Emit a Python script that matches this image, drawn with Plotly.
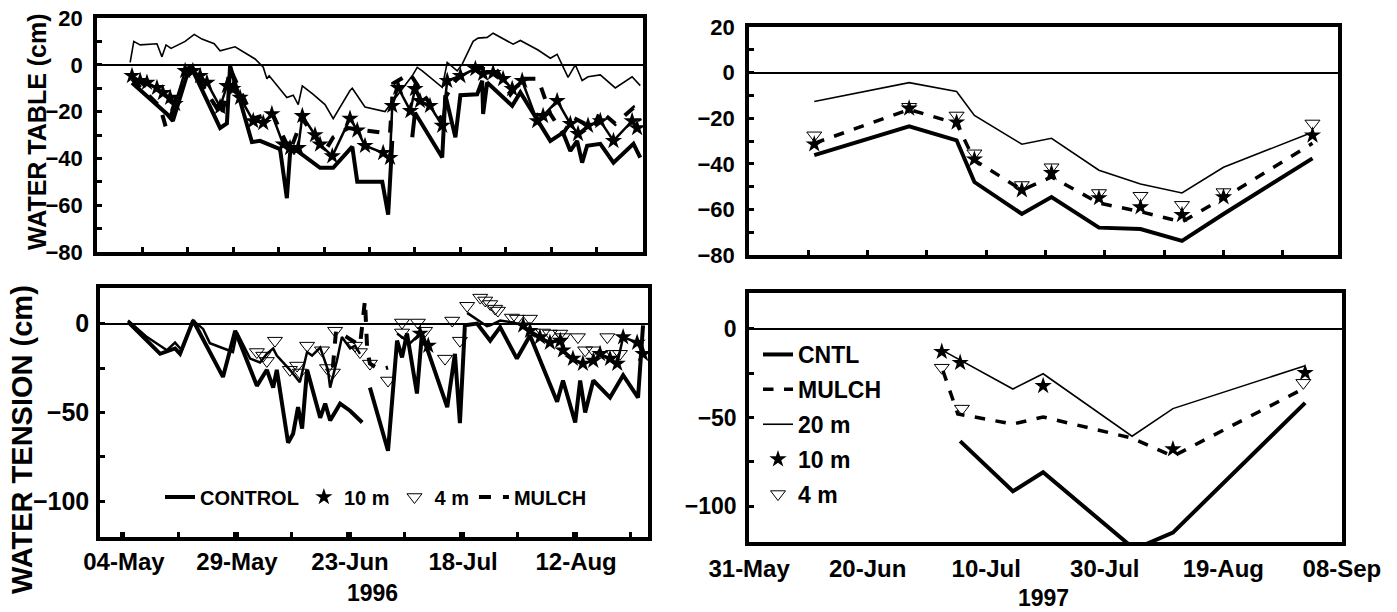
import pandas as pd
import plotly.graph_objects as go

# ---------------- DATA (x = day of year, y = cm) ----------------
# 1996, upper-left: water table
TL_20M = [(127.3, 1), (128.1, 10), (129.5, 8.5), (133.2, 9), (134.3, 3.4), (135.2, 8.5), (136.3, 7),
          (139.4, 10), (141.4, 13), (143.1, 11), (145.8, 9), (147.1, 6), (150.4, 7.7), (154.8, 2.5),
          (156.6, -1), (157.4, -6), (157.9, -4.7), (161.8, -14), (163.2, -13), (164.3, -17), (165.2, -9),
          (167.6, -12.6), (170.2, -17), (172, -23), (175.7, -11), (176.2, -10), (179, -18), (183.4, -20),
          (189.4, -4.7), (190.5, -1.1), (191.6, -2.6), (196, -9.6), (197.1, 1), (199.3, -2.6), (200.4, 0.3),
          (202.8, 10), (203.9, 11.4), (205.9, 11.7), (207.2, 13.5), (211.6, 8.8), (213.2, 10.4), (214.7, 8.8),
          (217.1, 6.3), (219.8, 2.8), (221.3, 4.5), (223.7, -5.4), (225.3, 0), (226.8, -6.7), (228.1, -5.1),
          (230.8, -4.3), (234.1, -9.9), (237.8, -5.1), (239.6, -8.9)]
TL_CONTROL = [(127.7, -7.7), (135.4, -21), (136.7, -24), (140.5, 0), (147.1, -27), (148.6, -25), (149.3, -0.4),
              (154.1, -33), (155.9, -32.5), (160.3, -36), (161.8, -57), (162.5, -38), (163.2, -35.5), (169.1, -44),
              (172, -44), (176.2, -35), (177.3, -50), (182.8, -50), (184.1, -64), (185, -32.5), (185.6, None),
              (189.4, -31), (190, -20.5), (196, -39.6), (196.7, -13), (198.9, -31), (200, -13), (203.7, -12.6),
              (204.8, -6.8), (205, -21), (205.9, -7.6), (211.4, -17.5), (213.2, -11.8), (219.8, -32.5),
              (222.6, -29), (224.2, -36.8), (225.7, -32.5), (226.8, -41.8), (227.9, -34.6), (230.8, -33.8),
              (233.7, -41.8), (238.1, -33.8), (239.6, -39.7)]
TL_10M = [(127.7, -4.7), (129.5, -6.8), (131, -7.6), (133.2, -9.8), (134.5, -12), (136.1, -14), (137.2, -16.7),
          (139.4, -2.6), (141.1, -2.6), (142.7, -4.7), (144.2, -7.6), (147.1, -18), (148.6, -9), (149.9, -10.3),
          (151.5, -14), (154.4, -24), (156.6, -24.8), (158.5, -21), (161, -34), (162.5, -35.5), (164.3, -35.5),
          (165.2, -21.8), (168, -30), (169.1, -34), (171.8, -39), (175.7, -23), (177.3, -28), (179, -34.6),
          (183, -37.6), (184.5, -39.7), (185, -17.5), (186.3, -9.8), (189, -19.7), (190, -10.3), (191.1, -15.4),
          (193.3, -17.5), (196, -26), (197.1, -6.8), (200, -4.7), (203.3, -1.7), (205, -3.8), (207.2, -3.4),
          (209.4, -6), (211.4, -10.3), (213.6, -6.8), (216.9, -24), (218.2, -21.8), (221.3, -15.4),
          (224.2, -25.2), (225.9, -29.5), (228.1, -26), (230.8, -24), (233.7, -32.5), (237.8, -24), (238.9, -27)]
TL_MULCH = [(127.7, -6), (133.9, -18), (135.2, -27), (140.5, -0.4), (147.5, -22), (149.3, -1.7), (154.4, -23),
            (158.5, -20.5), (162.5, -36.8), (165.2, -23), (170.2, -36.8), (172, -31), (175.3, -27), (184.5, -29.5),
            (185.2, -8), (188.9, -3.8), (194, -18.8), (196.2, -24), (196.7, -14), (199.3, -5.5), (202.8, -1),
            (208.1, -2.6), (211, -12.6), (213.6, -6), (217.1, -6), (219.8, -21), (222.6, -29.5), (224.8, -22.6),
            (229.3, -27), (230.8, -19.7), (234.1, -25.2), (238.1, -18.4), (239.6, -24)]

# 1996, lower-left: water tension
BL_CONTROL = [(125.9, 1), (133, -17), (136.3, -14), (137.4, -17), (140.3, 1.7), (146.9, -30), (149.6, -4),
              (154.4, -35), (156.6, -26), (158, -36), (158.8, -26), (161.3, -67), (162.4, -62), (163.5, -47),
              (164.4, -59), (165.5, -26), (168.4, -53), (169.5, -45), (170.6, -54.5), (172.8, -45), (175, -49),
              (177.7, -55.6), (178.5, None), (179.4, -36), (183.4, -71.5), (185.4, -9.6), (186.5, -19),
              (187.6, -5.6), (189.8, -39.3), (190.9, -5.6), (196.5, -47), (198.2, -17), (199.3, -56), (200.4, -1),
              (203.1, 0), (206, -9.6), (208.2, -2), (211.9, -19.7), (214.8, -6.7), (220.8, -44), (222.1, -32),
              (224.8, -55.6), (225.9, -32), (227, -50), (228.8, -32), (232.5, -41.6), (235.4, -29),
              (238.7, -41.6), (239.8, -1)]
BL_10M_LINE = [(125.9, 1.7), (130.1, -7.6), (134.5, -15), (136.3, -10.7), (137.8, -15), (140.3, 1.7),
               (142.5, -3), (144, -11), (149.1, -16), (150, -5), (152.9, -19.7), (155.1, -21.9), (156.6, -17),
               (158, -14), (158.8, -18), (161.7, -26), (163.9, -33), (165.5, -16), (166.6, -18), (168.4, -13.5),
               (170.1, -26), (170.6, -36), (172.1, -20.8), (173.2, -7.6), (175, -14), (176.1, -12.4),
               (177.2, -17), (178, None), (185.4, -5.6), (188.3, -11), (190.5, -5.6), (192.3, -12.4), (194, None),
               (200.9, 6), (205.3, -1.5), (206, -1), (208.2, 1.7), (211.1, 0.6), (213.3, -1), (214.8, -4),
               (217, -7.6), (219.2, -10.7), (221.5, -9.6), (222.1, -15), (224.3, -19.7), (226.5, -22.5),
               (228.8, -20.8), (230.3, -17), (232.5, -19.7), (234.1, -22.5), (235.4, -7.6), (238.5, -10.7),
               (239.8, -17)]
BL_10M_STARS = [(190.5, -5.6), (192.3, -12.4), (213.3, -1), (214.8, -4), (217, -7.6), (219.2, -10.7),
                (221.5, -9.6), (222.1, -15), (224.3, -19.7), (226.5, -22.5), (228.8, -20.8), (230.3, -17),
                (232.5, -19.7), (234.1, -22.5), (235.4, -7.6), (238.5, -10.7), (239.8, -17)]
BL_4M = [(154.4, -16), (155.8, -18), (156.6, -21), (158.4, -9.6), (161.7, -26), (163.3, -23.6), (163.9, -27.5),
         (165.5, -12.4), (168.8, -15), (169.9, -25), (171.2, -27.5), (171.7, -4), (176.1, -12.4), (177.2, -16),
         (179.4, -22.5), (183.4, -32), (186.5, 0.6), (186.5, -5), (190, 0.6), (191.6, -4), (196, -19.7),
         (197.6, 1.7), (199.3, -9.6), (200.9, 10), (203.8, 14.6), (204.9, 13), (206, 11), (207.1, 8.4),
         (207.7, 7.3), (210.8, 3.4), (211.9, 2.8), (214.8, 2.8), (217.7, -5), (219.2, -5.6), (221.5, -5.6),
         (222.1, -7.6), (225.4, -7.6), (227, -15), (228.8, -15), (231.9, -7.6), (233.2, -17), (234.7, -17)]
BL_MULCH = [(171.2, -24.7), (171.9, -4), (174.3, -7.6), (177.2, -12.4), (178.3, 13), (178.8, -15),
            (179.4, -22.5), (181.6, -26), (183.4, -24.7)]

# 1997, upper-right: water table
TR_DAYS = [162, 178, 186, 189, 197, 202, 210, 217, 224, 231, 246]
TR_20M = [-12.7, -4.4, -8.3, -18.8, -31.4, -28.8, -42.8, -48.9, -52.8, -41.5, -26.2]
TR_CNTL = [-36.2, -23.6, -29.7, -48, -62, -54.6, -68, -68.6, -73.8, -62, -37.6]
TR_MULCH = [-31, -16.2, -22.3, -38.4, -51.5, -45.8, -57.2, -61, -65.5, -55, -31]
TR_10M = [-31.4, -15.7, -21.8, -38, -51.5, -44, -55, -59, -62.4, -54.6, -27.5]
TR_4M = [-27.5, -15, -18.8, -35.4, -49.3, -41.5, -52.8, -54, -58, -52.4, -22.3]

# 1997, lower-right: water tension
BR_CNTL = [(186.6, -63.3), (195.5, -91.5), (200.6, -80.8), (216, -124), (222.5, -114.7), (244.8, -41.8)]
BR_MULCH = [(183.7, -23.7), (186.2, -48), (195.5, -53.7), (200.6, -49.7), (215.6, -61.6), (222.5, -71.8),
            (244.8, -33.3)]
BR_20M = [(183.7, -12.4), (195.5, -34), (200.6, -25.4), (215.6, -60.5), (222.5, -45), (244.8, -20.9)]
BR_10M = [(183.5, -13), (186.6, -19.2), (200.6, -32.2), (222.5, -67.8), (244.8, -24.9)]
BR_4M = [(183.5, -22), (186.9, -45), (244.5, -30.5)]


# ---------------- helpers ----------------
def to_date(year, d):
    return pd.Timestamp(year=year, month=1, day=1) + pd.Timedelta(days=d - 1)


def split(year, pairs):
    return [to_date(year, p[0]) for p in pairs], [p[1] for p in pairs]


FONT = "Liberation Sans, Arial, Helvetica, sans-serif"
BLACK = "black"
DAY_MS = 86400000

fig = go.Figure()


def add_line(year, pairs, ax, width, dash="solid", name=None, legend=None, mode="lines", marker=None):
    x, y = split(year, pairs)
    fig.add_trace(go.Scatter(
        x=x, y=y, mode=mode, name=name, xaxis=ax[0], yaxis=ax[1],
        line=dict(color=BLACK, width=width, dash=dash),
        marker=marker, showlegend=legend is not None, legend=legend if legend else "legend",
        legendgroup=f"{legend}-{name}", connectgaps=False, cliponaxis=True))


STAR = dict(symbol="star", size=13, color=BLACK, line=dict(width=0))
TRI = dict(symbol="triangle-down-open", size=13, color=BLACK, line=dict(width=1))

# upper-left
A1 = ("x", "y")
add_line(1996, TL_20M, A1, 1.6)
add_line(1996, TL_CONTROL, A1, 4)
add_line(1996, TL_MULCH, A1, 4, dash="dash")
add_line(1996, TL_10M, A1, 2.5, mode="lines+markers", marker=STAR)

# lower-left
A2 = ("x2", "y2")
add_line(1996, BL_CONTROL, A2, 4, name="CONTROL", legend="legend")
add_line(1996, BL_10M_LINE, A2, 2.5)
add_line(1996, BL_10M_STARS, A2, 2, name="10 m", legend="legend", mode="markers", marker=STAR)
add_line(1996, BL_4M, A2, 2, name="4 m", legend="legend", mode="markers", marker=TRI)
add_line(1996, BL_MULCH, A2, 4, dash="dash", name="MULCH", legend="legend")

# upper-right
A3 = ("x3", "y3")
add_line(1997, list(zip(TR_DAYS, TR_20M)), A3, 1.6)
add_line(1997, list(zip(TR_DAYS, TR_CNTL)), A3, 4)
add_line(1997, list(zip(TR_DAYS, TR_MULCH)), A3, 3.5, dash="dash")
add_line(1997, list(zip(TR_DAYS, TR_4M)), A3, 1, mode="markers", marker=TRI)
add_line(1997, list(zip(TR_DAYS, TR_10M)), A3, 1, mode="markers", marker=STAR)

# lower-right
A4 = ("x4", "y4")
add_line(1997, BR_CNTL, A4, 4, name="CNTL", legend="legend2")
add_line(1997, BR_MULCH, A4, 3.5, dash="dash", name="MULCH", legend="legend2")
add_line(1997, BR_20M, A4, 1.6, name="20 m", legend="legend2")
add_line(1997, BR_10M, A4, 1, name="10 m", legend="legend2", mode="markers", marker=STAR)
add_line(1997, BR_4M, A4, 1, name="4 m", legend="legend2", mode="markers", marker=TRI)

W, H = 1397, 612


def px(rx):
    return rx / W


def py(ry):
    return 1 - ry / H


def xd(a, b):
    return [px(a), px(b)]


def yd(top, bottom):
    return [py(bottom), py(top)]


AX = dict(showline=True, linewidth=3.5, linecolor=BLACK, mirror=True, showgrid=False, automargin=False,
          ticks="inside", tickcolor=BLACK, tickwidth=3, ticklen=5, ticklabeloverflow="allow")
YAX = dict(AX, zeroline=True, zerolinecolor=BLACK, zerolinewidth=1.5)

fig.update_layout(
    width=W, height=H, margin=dict(l=0, r=0, t=0, b=0, autoexpand=False),
    paper_bgcolor="white", plot_bgcolor="white",
    font=dict(family=FONT, color=BLACK, size=20, weight="bold"),
    xaxis=dict(AX, domain=xd(97, 643), anchor="y", type="date",
               range=[to_date(1996, 120), to_date(1996, 240.2)],
               tick0=to_date(1996, 130), dtick=10 * DAY_MS, showticklabels=False),
    yaxis=dict(YAX, domain=yd(18, 252), anchor="x", range=[-80, 20], tick0=0, dtick=20,
               tickfont=dict(size=22, weight="bold"), ticklabelstandoff=6,
               minor=dict(dtick=10, ticks="inside", ticklen=5, tickwidth=3, tickcolor=BLACK)),
    xaxis2=dict(AX, domain=xd(100, 648), anchor="y2", type="date",
                range=[to_date(1996, 119.7), to_date(1996, 240.9)],
                tick0=to_date(1996, 125), dtick=25 * DAY_MS, tickformat="%d-%b",
                tickfont=dict(size=24, weight="bold"), ticklabelstandoff=0,
                minor=dict(dtick=12.5 * DAY_MS, ticks="inside", ticklen=5, tickwidth=3, tickcolor=BLACK)),
    yaxis2=dict(YAX, domain=yd(288, 537), anchor="x2", range=[-120, 20], tick0=0, dtick=50,
                tickfont=dict(size=25, weight="bold"), ticklabelstandoff=2,
                minor=dict(dtick=25, ticks="inside", ticklen=5, tickwidth=3, tickcolor=BLACK)),
    xaxis3=dict(AX, domain=xd(749, 1338), anchor="y3", type="date",
                range=[to_date(1997, 151), to_date(1997, 250.3)],
                tick0=to_date(1997, 161), dtick=10 * DAY_MS, showticklabels=False),
    yaxis3=dict(YAX, domain=yd(27, 255), anchor="x3", range=[-80, 20], tick0=0, dtick=20,
                tickfont=dict(size=22, weight="bold"), ticklabelstandoff=6,
                minor=dict(dtick=10, ticks="inside", ticklen=5, tickwidth=3, tickcolor=BLACK)),
    xaxis4=dict(AX, domain=xd(749, 1342), anchor="y4", type="date", ticks="",
                range=[to_date(1997, 150.98), to_date(1997, 251.02)],
                tick0=to_date(1997, 151), dtick=20 * DAY_MS, tickformat="%d-%b",
                tickfont=dict(size=24, weight="bold"), ticklabelstandoff=2),
    yaxis4=dict(YAX, domain=yd(293, 542), anchor="x4", range=[-120, 20], tick0=0, dtick=50,
                tickfont=dict(size=23, weight="bold"), ticklabelstandoff=4,
                minor=dict(dtick=25, ticks="inside", ticklen=5, tickwidth=3, tickcolor=BLACK)),
    legend=dict(orientation="h", x=px(160), y=py(497), xanchor="left", yanchor="middle",
                bgcolor="rgba(0,0,0,0)", font=dict(size=20, weight="bold"), itemclick=False),
    legend2=dict(orientation="v", x=px(758), y=py(333), xanchor="left", yanchor="top",
                 bgcolor="rgba(0,0,0,0)", font=dict(size=23, weight="bold"), itemclick=False,
                 tracegroupgap=2),
)

ANN = dict(xref="paper", yref="paper", showarrow=False, xanchor="center", yanchor="middle")
fig.add_annotation(ANN, text="WATER TABLE (cm)", x=px(37), y=py(132), textangle=-90,
                   font=dict(size=25, weight="bold"))
fig.add_annotation(ANN, text="WATER TENSION (cm)", x=px(22), y=py(440), textangle=-90,
                   font=dict(size=29, weight="bold"))
fig.add_annotation(ANN, text="1996", x=px(373), y=py(593), font=dict(size=23, weight="bold"))
fig.add_annotation(ANN, text="1997", x=px(1043), y=py(598), font=dict(size=23, weight="bold"))

# the figure fills the whole window: drop the page's default body margin
fig.write_html("out.html", config={"displayModeBar": False},
               post_script="document.body.style.margin='0px';document.body.style.overflow='hidden';")
